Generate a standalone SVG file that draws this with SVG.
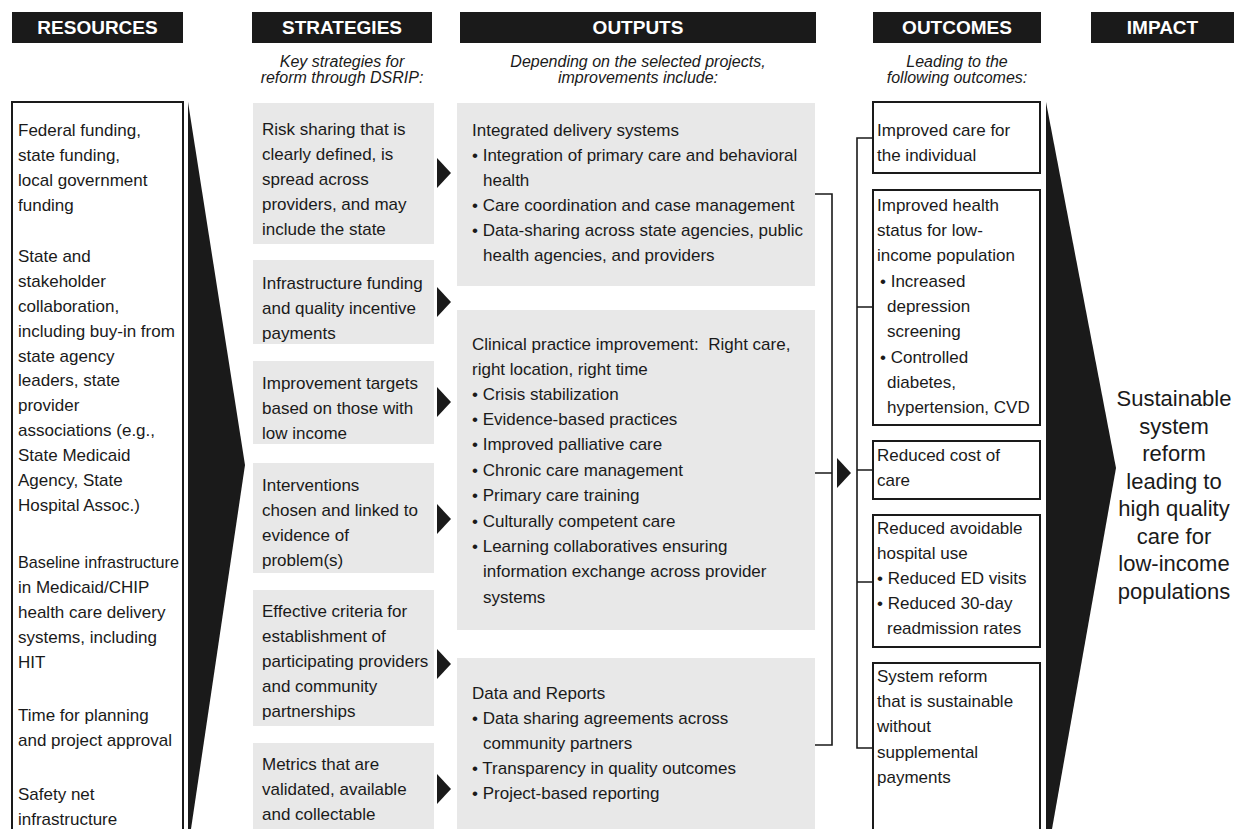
<svg xmlns="http://www.w3.org/2000/svg" width="1239" height="829" viewBox="0 0 1239 829">
  <style>
    .hdr { fill: #1a1a1a; }
    .hdr-t { font-family: "Liberation Sans", Arial, sans-serif; font-size: 19px; font-weight: bold; fill: #ffffff; text-anchor: middle; }
    .sub { font-family: "Liberation Sans", Arial, sans-serif; font-size: 16px; font-style: italic; fill: #1a1a1a; text-anchor: middle; }
    .t { font-family: "Liberation Sans", Arial, sans-serif; font-size: 17px; fill: #1a1a1a; }
    .imp { font-family: "Liberation Sans", Arial, sans-serif; font-size: 22px; fill: #1a1a1a; text-anchor: middle; }
    .gray { fill: #e8e8e8; }
    .frame { fill: #ffffff; stroke: #1a1a1a; stroke-width: 2; }
    .wire { fill: none; stroke: #1a1a1a; stroke-width: 1.6; }
    .tri { fill: #1a1a1a; }
  </style>
  <defs>
    <!-- small right-pointing arrowhead used between columns -->
    <path id="arrowhead" d="M0,-15 L14,0 L0,15 Z"/>
  </defs>

  <rect width="1239" height="829" fill="#ffffff"/>

  <!-- column headers -->
  <g id="headers">
    <rect class="hdr" x="12" y="12" width="171" height="31"/>
    <text class="hdr-t" x="97.5" y="34">RESOURCES</text>
    <rect class="hdr" x="252" y="12" width="180" height="31"/>
    <text class="hdr-t" x="342" y="34">STRATEGIES</text>
    <rect class="hdr" x="460" y="12" width="356" height="31"/>
    <text class="hdr-t" x="638" y="34">OUTPUTS</text>
    <rect class="hdr" x="873" y="12" width="168" height="31"/>
    <text class="hdr-t" x="957" y="34">OUTCOMES</text>
    <rect class="hdr" x="1091" y="12" width="143" height="31"/>
    <text class="hdr-t" x="1162.5" y="34">IMPACT</text>
  </g>

  <!-- column subtitles -->
  <g id="subtitles">
    <text class="sub" x="342" y="67">Key strategies for</text>
    <text class="sub" x="342" y="83">reform through DSRIP:</text>
    <text class="sub" x="638" y="67">Depending on the selected projects,</text>
    <text class="sub" x="638" y="83">improvements include:</text>
    <text class="sub" x="957" y="67">Leading to the</text>
    <text class="sub" x="957" y="83">following outcomes:</text>
  </g>

  <!-- resources -->
  <g id="resources">
    <rect class="frame" x="12" y="102" width="171" height="740"/>
    <text class="t" x="18" y="136">Federal funding,</text>
    <text class="t" x="18" y="161">state funding,</text>
    <text class="t" x="18" y="186">local government</text>
    <text class="t" x="18" y="211">funding</text>
    <text class="t" x="18" y="262">State and</text>
    <text class="t" x="18" y="287">stakeholder</text>
    <text class="t" x="18" y="312">collaboration,</text>
    <text class="t" x="18" y="337">including buy-in from</text>
    <text class="t" x="18" y="362">state agency</text>
    <text class="t" x="18" y="386">leaders, state</text>
    <text class="t" x="18" y="411">provider</text>
    <text class="t" x="18" y="436">associations (e.g.,</text>
    <text class="t" x="18" y="461">State Medicaid</text>
    <text class="t" x="18" y="486">Agency, State</text>
    <text class="t" x="18" y="511">Hospital Assoc.)</text>
    <text class="t" x="18" y="568" textLength="161" lengthAdjust="spacingAndGlyphs">Baseline infrastructure</text>
    <text class="t" x="18" y="593">in Medicaid/CHIP</text>
    <text class="t" x="18" y="618">health care delivery</text>
    <text class="t" x="18" y="643">systems, including</text>
    <text class="t" x="18" y="668">HIT</text>
    <text class="t" x="18" y="721">Time for planning</text>
    <text class="t" x="18" y="746">and project approval</text>
    <text class="t" x="18" y="800">Safety net</text>
    <text class="t" x="18" y="825">infrastructure</text>
  </g>

  <!-- strategies -->
  <g id="strategy-risk">
    <rect class="gray" x="253" y="103" width="181" height="141"/>
    <text class="t" x="262" y="135">Risk sharing that is</text>
    <text class="t" x="262" y="160">clearly defined, is</text>
    <text class="t" x="262" y="185">spread across</text>
    <text class="t" x="262" y="210">providers, and may</text>
    <text class="t" x="262" y="235">include the state</text>
  </g>
  <g id="strategy-funding">
    <rect class="gray" x="253" y="260" width="181" height="84"/>
    <text class="t" x="262" y="289">Infrastructure funding</text>
    <text class="t" x="262" y="314">and quality incentive</text>
    <text class="t" x="262" y="339">payments</text>
  </g>
  <g id="strategy-targets">
    <rect class="gray" x="253" y="361" width="181" height="83"/>
    <text class="t" x="262" y="389">Improvement targets</text>
    <text class="t" x="262" y="414">based on those with</text>
    <text class="t" x="262" y="439">low income</text>
  </g>
  <g id="strategy-interventions">
    <rect class="gray" x="253" y="463" width="181" height="110"/>
    <text class="t" x="262" y="491">Interventions</text>
    <text class="t" x="262" y="516">chosen and linked to</text>
    <text class="t" x="262" y="541">evidence of</text>
    <text class="t" x="262" y="566">problem(s)</text>
  </g>
  <g id="strategy-criteria">
    <rect class="gray" x="253" y="590" width="181" height="136"/>
    <text class="t" x="262" y="617">Effective criteria for</text>
    <text class="t" x="262" y="642">establishment of</text>
    <text class="t" x="262" y="667">participating providers</text>
    <text class="t" x="262" y="692">and community</text>
    <text class="t" x="262" y="717">partnerships</text>
  </g>
  <g id="strategy-metrics">
    <rect class="gray" x="253" y="743" width="181" height="100"/>
    <text class="t" x="262" y="770">Metrics that are</text>
    <text class="t" x="262" y="795">validated, available</text>
    <text class="t" x="262" y="820">and collectable</text>
  </g>

  <!-- outputs -->
  <g id="output-integrated">
    <rect class="gray" x="457" y="103" width="358" height="183"/>
    <text class="t" x="472" y="136">Integrated delivery systems</text>
    <text class="t" x="472" y="161">• Integration of primary care and behavioral</text>
    <text class="t" x="483" y="186">health</text>
    <text class="t" x="472" y="211">• Care coordination and case management</text>
    <text class="t" x="472" y="236">• Data-sharing across state agencies, public</text>
    <text class="t" x="483" y="261">health agencies, and providers</text>
  </g>
  <g id="output-clinical">
    <rect class="gray" x="457" y="310" width="358" height="320"/>
    <text class="t" x="472" y="350">Clinical practice improvement:&#160; Right care,</text>
    <text class="t" x="472" y="375">right location, right time</text>
    <text class="t" x="472" y="400">• Crisis stabilization</text>
    <text class="t" x="472" y="425">• Evidence-based practices</text>
    <text class="t" x="472" y="450">• Improved palliative care</text>
    <text class="t" x="472" y="476">• Chronic care management</text>
    <text class="t" x="472" y="501">• Primary care training</text>
    <text class="t" x="472" y="527">• Culturally competent care</text>
    <text class="t" x="472" y="552">• Learning collaboratives ensuring</text>
    <text class="t" x="483" y="577">information exchange across provider</text>
    <text class="t" x="483" y="603">systems</text>
  </g>
  <g id="output-data">
    <rect class="gray" x="457" y="658" width="358" height="185"/>
    <text class="t" x="472" y="699">Data and Reports</text>
    <text class="t" x="472" y="724">• Data sharing agreements across</text>
    <text class="t" x="483" y="749">community partners</text>
    <text class="t" x="472" y="774">• Transparency in quality outcomes</text>
    <text class="t" x="472" y="799">• Project-based reporting</text>
  </g>

  <!-- outcomes -->
  <g id="outcome-individual">
    <rect class="frame" x="873" y="102" width="167" height="71"/>
    <text class="t" x="877" y="136">Improved care for</text>
    <text class="t" x="877" y="161">the individual</text>
  </g>
  <g id="outcome-health">
    <rect class="frame" x="873" y="190" width="167" height="235"/>
    <text class="t" x="877" y="211">Improved health</text>
    <text class="t" x="877" y="236">status for low-</text>
    <text class="t" x="877" y="261">income population</text>
    <text class="t" x="880" y="287">• Increased</text>
    <text class="t" x="887" y="312">depression</text>
    <text class="t" x="887" y="337">screening</text>
    <text class="t" x="880" y="363">• Controlled</text>
    <text class="t" x="887" y="388">diabetes,</text>
    <text class="t" x="887" y="413">hypertension, CVD</text>
  </g>
  <g id="outcome-cost">
    <rect class="frame" x="873" y="441" width="167" height="58"/>
    <text class="t" x="877" y="461">Reduced cost of</text>
    <text class="t" x="877" y="486">care</text>
  </g>
  <g id="outcome-hospital">
    <rect class="frame" x="873" y="515" width="167" height="132"/>
    <text class="t" x="877" y="534">Reduced avoidable</text>
    <text class="t" x="877" y="559">hospital use</text>
    <text class="t" x="877" y="584">• Reduced ED visits</text>
    <text class="t" x="877" y="609">• Reduced 30-day</text>
    <text class="t" x="887" y="634">readmission rates</text>
  </g>
  <g id="outcome-reform">
    <rect class="frame" x="873" y="663" width="167" height="180"/>
    <text class="t" x="877" y="682">System reform</text>
    <text class="t" x="877" y="707">that is sustainable</text>
    <text class="t" x="877" y="732">without</text>
    <text class="t" x="877" y="758">supplemental</text>
    <text class="t" x="877" y="783">payments</text>
  </g>

  <!-- impact -->
  <g id="impact">
    <text class="imp" x="1174" y="406">Sustainable</text>
    <text class="imp" x="1174" y="434">system</text>
    <text class="imp" x="1174" y="461">reform</text>
    <text class="imp" x="1174" y="489">leading to</text>
    <text class="imp" x="1174" y="516">high quality</text>
    <text class="imp" x="1174" y="544">care for</text>
    <text class="imp" x="1174" y="571">low-income</text>
    <text class="imp" x="1174" y="599">populations</text>
  </g>

  <!-- connectors -->
  <g id="connectors">
    <!-- wedge from resources to strategies -->
    <polygon class="tri" points="188,102 245,465 191,829 188,829"/>
    <!-- wedge from outcomes to impact -->
    <polygon class="tri" points="1046,102 1116,468 1052,829 1046,829"/>

    <!-- strategies to outputs -->
    <use href="#arrowhead" class="tri" x="437" y="173"/>
    <use href="#arrowhead" class="tri" x="437" y="302"/>
    <use href="#arrowhead" class="tri" x="437" y="402"/>
    <use href="#arrowhead" class="tri" x="437" y="519"/>
    <use href="#arrowhead" class="tri" x="437" y="664"/>
    <use href="#arrowhead" class="tri" x="437" y="789"/>

    <!-- outputs bracket -->
    <path class="wire" d="M815,194 H832 V745 H815 M815,473 H832"/>
    <use href="#arrowhead" class="tri" x="837" y="473"/>

    <!-- outcomes bracket -->
    <path class="wire" d="M873,138 H857 V748 H873 M857,307 H873 M857,470 H873 M857,582 H873"/>
  </g>
</svg>
